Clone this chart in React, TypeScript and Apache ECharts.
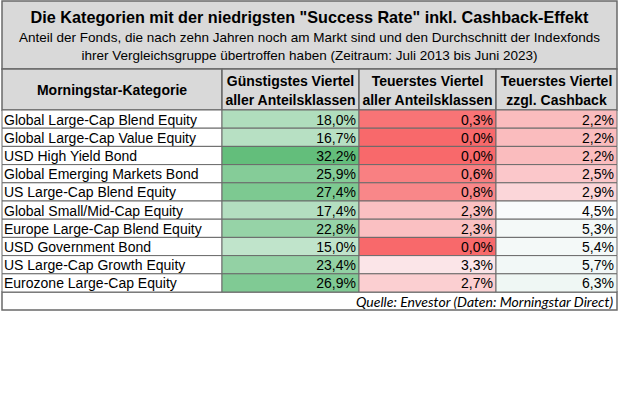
import React, { useEffect, useRef } from "react";
import * as echarts from "echarts";

const titleText = 'Die Kategorien mit der niedrigsten "Success Rate" inkl. Cashback-Effekt';
const subtitleLines = [
  "Anteil der Fonds, die nach zehn Jahren noch am Markt sind und den Durchschnitt der Indexfonds",
  "ihrer Vergleichsgruppe übertroffen haben (Zeitraum: Juli 2013 bis Juni 2023)",
];
const columnHeaders = [
  ["Morningstar-Kategorie"],
  ["Günstigstes Viertel", "aller Anteilsklassen"],
  ["Teuerstes Viertel", "aller Anteilsklassen"],
  ["Teuerstes Viertel", "zzgl. Cashback"],
];
const categories = [
  "Global Large-Cap Blend Equity",
  "Global Large-Cap Value Equity",
  "USD High Yield Bond",
  "Global Emerging Markets Bond",
  "US Large-Cap Blend Equity",
  "Global Small/Mid-Cap Equity",
  "Europe Large-Cap Blend Equity",
  "USD Government Bond",
  "US Large-Cap Growth Equity",
  "Eurozone Large-Cap Equity",
];
const cheapestQuarter = [18.0, 16.7, 32.2, 25.9, 27.4, 17.4, 22.8, 15.0, 23.4, 26.9];
const priciestQuarter = [0.3, 0.0, 0.0, 0.6, 0.8, 2.3, 2.3, 0.0, 3.3, 2.7];
const priciestWithCashback = [2.2, 2.2, 2.2, 2.5, 2.9, 4.5, 5.3, 5.4, 5.7, 6.3];
const sourceText = "Quelle: Envestor (Daten: Morningstar Direct)";

const FONT = "'Liberation Sans', Arial, sans-serif";
const BORDER = "#6a6a6a";
const GRAY = "#d9d9d9";

// layout
const X0 = 2;
const colEdges = [2, 222, 359, 496, 617];
const TITLE_TOP = 1;
const HEADER_TOP = 69;
const BODY_TOP = 110;
const ROW_H = 18.2;
const SOURCE_H = 18;

function colorScale(v: number, min: number, mid: number, max: number): string {
  const red = [248, 105, 107];
  const white = [252, 252, 255];
  const green = [99, 190, 123];
  let a: number[], b: number[], t: number;
  if (v <= mid) {
    a = red; b = white; t = mid === min ? 1 : (v - min) / (mid - min);
  } else {
    a = white; b = green; t = (v - mid) / (max - mid);
  }
  t = Math.max(0, Math.min(1, t));
  const c = a.map((x, i) => Math.round(x + (b[i] - x) * t));
  return `rgb(${c[0]},${c[1]},${c[2]})`;
}

function textStyle(text: string, font: string, align: string, vAlign = "middle") {
  return {
    text,
    font,
    fill: "#000",
    align,
    verticalAlign: vAlign,
    textAlign: align,
    textVerticalAlign: vAlign,
  };
}

export default function App() {
  const ref = useRef<HTMLDivElement>(null);
  useEffect(() => {
    if (!ref.current) return;
    const chart = echarts.init(ref.current, undefined, { renderer: "svg" });

    const all = [...cheapestQuarter, ...priciestQuarter, ...priciestWithCashback];
    const sorted = [...all].sort((a, b) => a - b);
    const n = sorted.length;
    const median = n % 2 ? sorted[(n - 1) / 2] : (sorted[n / 2 - 1] + sorted[n / 2]) / 2;
    const min = sorted[0];
    const max = sorted[n - 1];

    const bodyH = ROW_H * categories.length;
    const cols: (number[] | null)[] = [null, cheapestQuarter, priciestQuarter, priciestWithCashback];

    const grids = cols.map((_, ci) => ({
      left: colEdges[ci],
      width: colEdges[ci + 1] - colEdges[ci],
      top: BODY_TOP,
      height: bodyH,
    }));
    const xAxes = cols.map((_, ci) => ({
      type: "category",
      gridIndex: ci,
      data: [columnHeaders[ci].join(" ")],
      show: false,
    }));
    const yAxes = cols.map((_, ci) => ({
      type: "category",
      gridIndex: ci,
      data: categories,
      inverse: true,
      show: false,
    }));
    const fmt = (v: number) => v.toFixed(1).replace(".", ",") + "%";

    const series = cols.map((vals, ci) => {
      const isName = !vals;
      const data = isName
        ? categories.map((_, i) => [0, i, 0])
        : (vals as number[]).map((v, i) => [0, i, v]);
      return {
        type: "custom",
        xAxisIndex: ci,
        yAxisIndex: ci,
        data,
        renderItem: (params: any, api: any) => {
          const xi = api.value(0);
          const yi = api.value(1);
          const v = api.value(2);
          const c = api.coord([xi, yi]);
          const s = api.size([1, 1]);
          const x0 = c[0] - s[0] / 2;
          const y0 = c[1] - s[1] / 2;
          const fill = isName ? "#ffffff" : colorScale(v, min, median, max);
          const label = isName ? categories[yi] : fmt(v);
          return {
            type: "group",
            children: [
              {
                type: "rect",
                shape: { x: x0, y: y0, width: s[0], height: s[1] },
                style: { fill, stroke: BORDER, lineWidth: 1 },
              },
              {
                type: "text",
                x: isName ? x0 + 2 : x0 + s[0] - 3,
                y: c[1] + 0.5,
                style: textStyle(label, `14px ${FONT}`, isName ? "left" : "right"),
              },
            ],
          };
        },
      };
    });

    const W = colEdges[4] - X0;
    const cx = X0 + W / 2;
    const graphic: any[] = [
      {
        type: "rect",
        shape: { x: X0, y: TITLE_TOP, width: W, height: HEADER_TOP - TITLE_TOP },
        style: { fill: GRAY, stroke: BORDER, lineWidth: 1.5 },
      },
      {
        type: "text",
        x: cx,
        y: 17,
        style: textStyle(titleText, `bold 16.2px ${FONT}`, "center"),
      },
      ...subtitleLines.map((t, i) => ({
        type: "text",
        x: cx,
        y: 37 + i * 18,
        style: textStyle(t, `13.5px ${FONT}`, "center"),
      })),
    ];
    columnHeaders.forEach((lines, ci) => {
      const x = colEdges[ci];
      const w = colEdges[ci + 1] - colEdges[ci];
      graphic.push({
        type: "rect",
        shape: { x: x, y: HEADER_TOP, width: w, height: BODY_TOP - HEADER_TOP },
        style: { fill: GRAY, stroke: BORDER, lineWidth: 1.5 },
      });
      const midY = (HEADER_TOP + BODY_TOP) / 2 + 0.5;
      lines.forEach((t, li) => {
        graphic.push({
          type: "text",
          x: x + w / 2,
          y: midY + (li - (lines.length - 1) / 2) * 19,
          style: textStyle(t, `bold 14px ${FONT}`, "center"),
        });
      });
    });
    const srcTop = BODY_TOP + bodyH;
    graphic.push({
      type: "rect",
      shape: { x: X0, y: srcTop, width: W, height: SOURCE_H },
      style: { fill: "#fff", stroke: BORDER, lineWidth: 1.5 },
    });
    graphic.push({
      type: "text",
      x: colEdges[4] - 4,
      y: srcTop + SOURCE_H / 2,
      style: textStyle(sourceText, `italic 14px Lato, 'Liberation Sans', sans-serif`, "right"),
    });

    chart.setOption({
      animation: false,
      backgroundColor: "#ffffff",
      grid: grids,
      xAxis: xAxes,
      yAxis: yAxes,
      series,
      graphic,
    } as any);
    return () => chart.dispose();
  }, []);
  return (
    <div
      ref={ref}
      style={{ position: "absolute", left: 0, top: 0, width: 620, height: 413 }}
    />
  );
}
